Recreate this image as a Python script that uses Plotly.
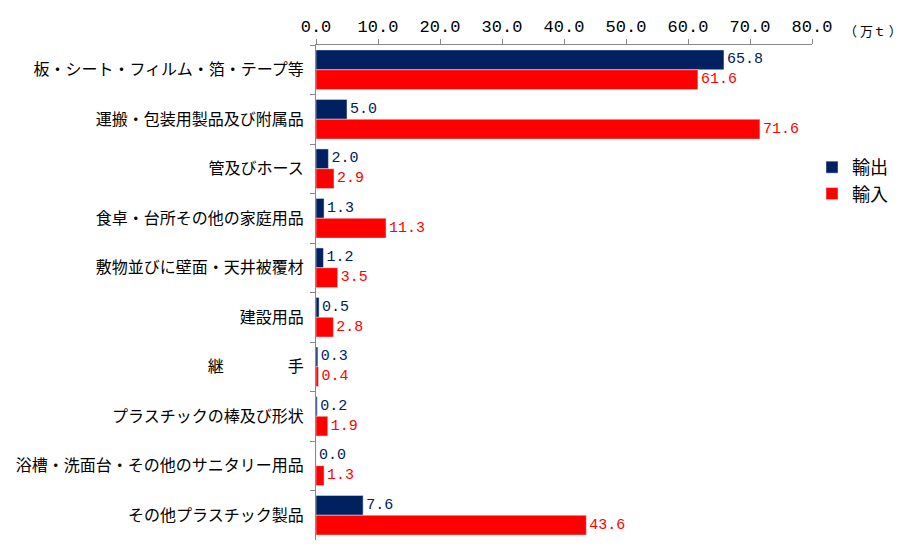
import plotly.graph_objects as go

# categories (top to bottom)
categories = [
    '板・シート・フィルム・箔・テープ等',
    '運搬・包装用製品及び附属品',
    '管及びホース',
    '食卓・台所その他の家庭用品',
    '敷物並びに壁面・天井被覆材',
    '建設用品',
    '継　　　　手',
    'プラスチックの棒及び形状',
    '浴槽・洗面台・その他のサニタリー用品',
    'その他プラスチック製品',
]
exports = [65.8, 5.0, 2.0, 1.3, 1.2, 0.5, 0.3, 0.2, 0.0, 7.6]
imports = [61.6, 71.6, 2.9, 11.3, 3.5, 2.8, 0.4, 1.9, 1.3, 43.6]
x_ticks = [0, 10, 20, 30, 40, 50, 60, 70, 80]

font_jp = 'Noto Sans CJK JP'
font_num = 'Liberation Mono'
navy = '#002060'
red = '#FF0000'

fig = go.Figure()
fig.add_trace(go.Bar(
    y=categories, x=exports, name='輸出', orientation='h',
    marker_color=navy, text=[f'{v:.1f}' for v in exports],
    textposition='outside', textfont=dict(color=navy, size=15, family=font_num),
    cliponaxis=False,
))
fig.add_trace(go.Bar(
    y=categories, x=imports, name='輸入', orientation='h',
    marker_color=red, text=[f'{v:.1f}' for v in imports],
    textposition='outside', textfont=dict(color=red, size=15, family=font_num),
    cliponaxis=False,
))

# page body has an 8px margin, so the figure is sized/offset to compensate
fig.update_layout(
    width=897, height=551,
    margin=dict(l=308, r=93, t=37, b=19),
    barmode='group', bargap=0.2, bargroupgap=0,
    plot_bgcolor='white', paper_bgcolor='white',
    font=dict(family=font_jp, size=16, color='black'),
    showlegend=True,
    legend=dict(x=1.0, y=0.79, xanchor='left', yanchor='top',
                font=dict(size=18), itemwidth=30, tracegroupgap=2),
    xaxis=dict(
        side='top', range=[0, 80], tickvals=x_ticks,
        ticktext=[f'{v:.1f}' for v in x_ticks],
        showgrid=False, zeroline=False, showline=True, linecolor='#888888',
        ticks='outside', tickcolor='#888888', ticklen=5,
        tickfont=dict(size=17, family=font_num), automargin=False,
    ),
    yaxis=dict(
        autorange='reversed', showgrid=False, showline=True,
        linecolor='#888888', ticks='outside', tickcolor='#888888', ticklen=5,
        tickson='boundaries', tickfont=dict(size=16, family=font_jp),
        ticklabelstandoff=8, automargin=False,
    ),
)
fig.add_annotation(
    text='（ 万ｔ ）', xref='paper', yref='paper', x=1.0, y=1.0,
    xanchor='left', yanchor='bottom', xshift=30, yshift=3,
    showarrow=False, font=dict(size=13, family=font_jp),
)

fig.write_html('out.html')
